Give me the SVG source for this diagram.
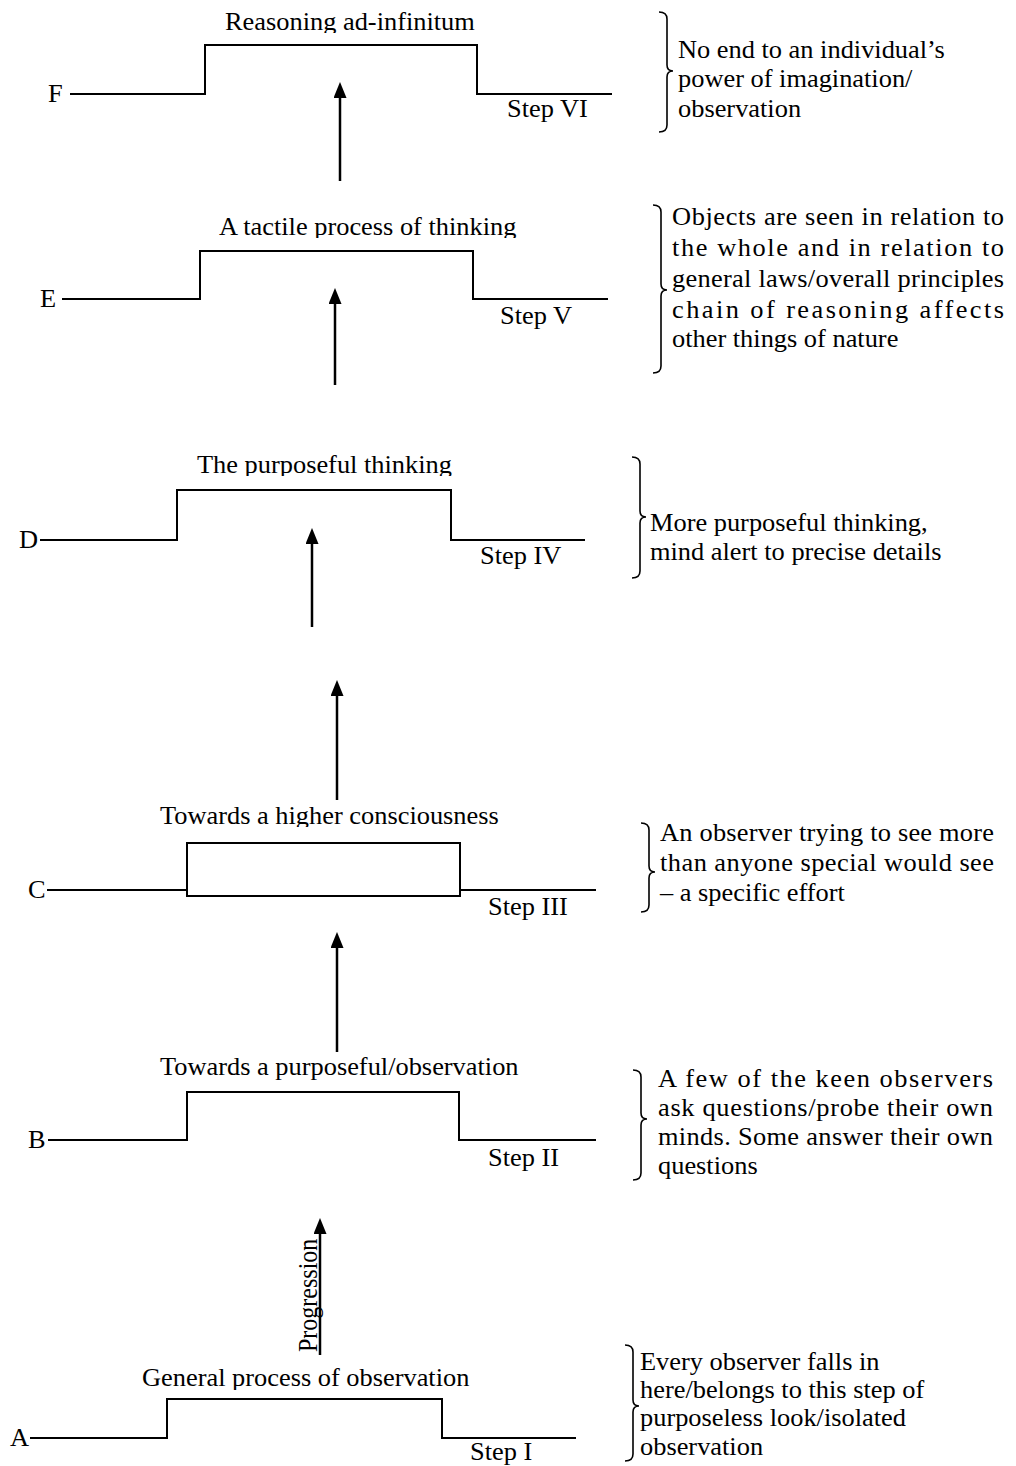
<svg xmlns="http://www.w3.org/2000/svg" width="1016" height="1466" viewBox="0 0 1016 1466">
  <style>
    .t { font-family: "Liberation Serif", "Times New Roman", serif; font-size: 25px; fill: #000; }
    .v { font-size: 24px; }
    .ln { fill: none; stroke: #000; stroke-width: 2; }
    .ar { stroke: #000; stroke-width: 2.5; marker-end: url(#head); }
    .br { fill: none; stroke: #000; stroke-width: 1.6; }
  </style>
  <defs>
    <marker id="head" markerUnits="userSpaceOnUse" viewBox="0 0 16 13" markerWidth="16" markerHeight="13" refX="1" refY="6.5" orient="auto">
      <path d="M0,0 L16,6.5 L0,13 z" fill="#000"/>
    </marker>
    <!-- title boxes crop the descenders -->
    <clipPath id="cF"><rect x="0" y="0" width="1016" height="33"/></clipPath>
    <clipPath id="cE"><rect x="0" y="200" width="1016" height="38"/></clipPath>
    <clipPath id="cD"><rect x="0" y="440" width="1016" height="36"/></clipPath>
    <clipPath id="cC"><rect x="0" y="790" width="1016" height="37"/></clipPath>
    <clipPath id="cA"><rect x="0" y="1350" width="1016" height="40"/></clipPath>
  </defs>
  <rect width="1016" height="1466" fill="#fff"/>

  <!-- Step VI -->
  <g id="stepF">
    <g clip-path="url(#cF)">
      <text class="t" transform="translate(225 30) scale(1.056 1)">Reasoning ad-infinitum</text>
    </g>
    <text class="t" transform="translate(48 102) scale(1.056 1)">F</text>
    <path class="ln" d="M70,94 H205 V45 H477 V94 H612"/>
    <text class="t" transform="translate(507 117) scale(1.056 1)">Step VI</text>
  </g>
  <g id="noteF">
    <path class="br" d="M659,12 Q667,12 667,19 V65 Q667,71 673,71 Q667,71 667,77 V125 Q667,132 659,132"/>
    <text class="t" transform="translate(678 58) scale(1.056 1)">No end to an individual’s</text>
    <text class="t" transform="translate(678 87) scale(1.056 1)">power of imagination/</text>
    <text class="t" transform="translate(678 117) scale(1.056 1)">observation</text>
  </g>

  <!-- Step V -->
  <g id="stepE">
    <g clip-path="url(#cE)">
      <text class="t" transform="translate(219 235) scale(1.056 1)">A tactile process of thinking</text>
    </g>
    <text class="t" transform="translate(40 307) scale(1.056 1)">E</text>
    <path class="ln" d="M62,299 H200 V251 H473 V299 H608"/>
    <text class="t" transform="translate(500 324) scale(1.056 1)">Step V</text>
  </g>
  <g id="noteE">
    <path class="br" d="M653,205 Q661,205 661,212 V284 Q661,290 667,290 Q661,290 661,296 V366 Q661,373 653,373"/>
    <text class="t" transform="translate(672 225) scale(1.056 1)" textLength="314.4" lengthAdjust="spacing">Objects are seen in relation to</text>
    <text class="t" transform="translate(672 256) scale(1.056 1)" textLength="314.4" lengthAdjust="spacing">the whole and in relation to</text>
    <text class="t" transform="translate(672 287) scale(1.056 1)" textLength="314.4" lengthAdjust="spacing">general laws/overall principles</text>
    <text class="t" transform="translate(672 318) scale(1.056 1)" textLength="314.4" lengthAdjust="spacing">chain of reasoning affects</text>
    <text class="t" transform="translate(672 347) scale(1.056 1)">other things of nature</text>
  </g>

  <!-- Step IV -->
  <g id="stepD">
    <g clip-path="url(#cD)">
      <text class="t" transform="translate(197 473) scale(1.056 1)">The purposeful thinking</text>
    </g>
    <text class="t" transform="translate(19 548) scale(1.056 1)">D</text>
    <path class="ln" d="M40,540 H177 V490 H451 V540 H585"/>
    <text class="t" transform="translate(480 564) scale(1.056 1)">Step IV</text>
  </g>
  <g id="noteD">
    <path class="br" d="M632,457 Q640,457 640,464 V511 Q640,517 646,517 Q640,517 640,523 V571 Q640,578 632,578"/>
    <text class="t" transform="translate(650 531) scale(1.056 1)">More purposeful thinking,</text>
    <text class="t" transform="translate(650 560) scale(1.056 1)">mind alert to precise details</text>
  </g>

  <!-- Step III -->
  <g id="stepC">
    <g clip-path="url(#cC)">
      <text class="t" transform="translate(160 824) scale(1.056 1)">Towards a higher consciousness</text>
    </g>
    <text class="t" transform="translate(28 898) scale(1.056 1)">C</text>
    <path class="ln" d="M47,890 H187 M460,890 H596"/>
    <rect class="ln" x="187" y="843" width="273" height="53"/>
    <text class="t" transform="translate(488 915) scale(1.056 1)">Step III</text>
  </g>
  <g id="noteC">
    <path class="br" d="M641,823 Q649,823 649,830 V866 Q649,872 655,872 Q649,872 649,878 V905 Q649,912 641,912"/>
    <text class="t" transform="translate(660 841) scale(1.056 1)" textLength="316.3" lengthAdjust="spacing">An observer trying to see more</text>
    <text class="t" transform="translate(660 871) scale(1.056 1)" textLength="316.3" lengthAdjust="spacing">than anyone special would see</text>
    <text class="t" transform="translate(660 901) scale(1.056 1)">– a specific effort</text>
  </g>

  <!-- Step II -->
  <g id="stepB">
    <text class="t" transform="translate(160 1075) scale(1.056 1)">Towards a purposeful/observation</text>
    <text class="t" transform="translate(28 1148) scale(1.056 1)">B</text>
    <path class="ln" d="M48,1140 H187 V1092 H459 V1140 H596"/>
    <text class="t" transform="translate(488 1166) scale(1.056 1)">Step II</text>
  </g>
  <g id="noteB">
    <path class="br" d="M633,1070 Q641,1070 641,1077 V1113 Q641,1119 647,1119 Q641,1119 641,1125 V1173 Q641,1180 633,1180"/>
    <text class="t" transform="translate(658 1087) scale(1.056 1)" textLength="317.2" lengthAdjust="spacing">A few of the keen observers</text>
    <text class="t" transform="translate(658 1116) scale(1.056 1)" textLength="317.2" lengthAdjust="spacing">ask questions/probe their own</text>
    <text class="t" transform="translate(658 1145) scale(1.056 1)" textLength="317.2" lengthAdjust="spacing">minds. Some answer their own</text>
    <text class="t" transform="translate(658 1174) scale(1.056 1)">questions</text>
  </g>

  <!-- Step I -->
  <g id="stepA">
    <g clip-path="url(#cA)">
      <text class="t" transform="translate(142 1386) scale(1.056 1)">General process of observation</text>
    </g>
    <text class="t" transform="translate(10 1446) scale(1.056 1)">A</text>
    <path class="ln" d="M30,1438 H167 V1399 H442 V1438 H576"/>
    <text class="t" transform="translate(470 1460) scale(1.056 1)">Step I</text>
  </g>
  <g id="noteA">
    <path class="br" d="M625,1345 Q633,1345 633,1352 V1400 Q633,1406 639,1406 Q633,1406 633,1412 V1454 Q633,1461 625,1461"/>
    <text class="t" transform="translate(640 1370) scale(1.056 1)">Every observer falls in</text>
    <text class="t" transform="translate(640 1398) scale(1.056 1)">here/belongs to this step of</text>
    <text class="t" transform="translate(640 1426) scale(1.056 1)">purposeless look/isolated</text>
    <text class="t" transform="translate(640 1455) scale(1.056 1)">observation</text>
  </g>

  <!-- upward progression arrows between the steps -->
  <g id="connectors">
    <line class="ar" x1="320" y1="1355" x2="320" y2="1233"/>
    <line class="ar" x1="337" y1="1052" x2="337" y2="947"/>
    <line class="ar" x1="337" y1="800" x2="337" y2="695"/>
    <line class="ar" x1="312" y1="627" x2="312" y2="543"/>
    <line class="ar" x1="335" y1="385" x2="335" y2="303"/>
    <line class="ar" x1="340" y1="181" x2="340" y2="97"/>
    <text class="t v" transform="translate(317 1352) rotate(-90) scale(1 1.1)">Progression</text>
  </g>
</svg>
